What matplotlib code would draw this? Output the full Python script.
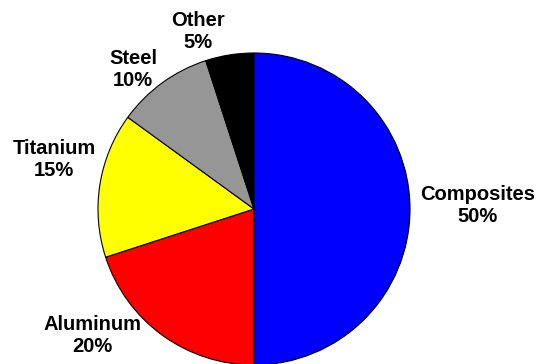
import matplotlib
matplotlib.use("Agg")
import matplotlib.pyplot as plt

plt.rcParams["font.family"] = ["Liberation Sans", "DejaVu Sans"]

# material share of the structure, in percent
materials = ["Composites", "Aluminum", "Titanium", "Steel", "Other"]
shares = [50, 20, 15, 10, 5]
colors = ["#0000ff", "#ff0000", "#ffff00", "#969696", "#000000"]

# label anchor points in pixel units (x right, y down)
label_xy = [(478, 205), (92, 335), (54, 159), (133, 69), (198, 32)]

W, H = 539, 364
fig = plt.figure(figsize=(W / 100, H / 100), dpi=100)
ax = fig.add_axes([0, 0, 1, 1])
ax.set_xlim(0, W)
ax.set_ylim(0, H)
ax.set_aspect("equal")
ax.axis("off")

ax.pie(
    shares,
    colors=colors,
    startangle=90,
    counterclock=False,
    center=(254, H - 209),
    radius=156,
    frame=True,
    wedgeprops=dict(edgecolor="black", linewidth=0.8),
)
ax.set_xlim(0, W)
ax.set_ylim(0, H)
ax.axis("off")

for name, share, (x, y) in zip(materials, shares, label_xy):
    ax.text(
        x, H - y, f"{name}\n{share}%",
        ha="center", va="center", multialignment="center",
        fontsize=14.5, fontweight="bold", color="black",
    )

fig.savefig("out.png", dpi=100)
